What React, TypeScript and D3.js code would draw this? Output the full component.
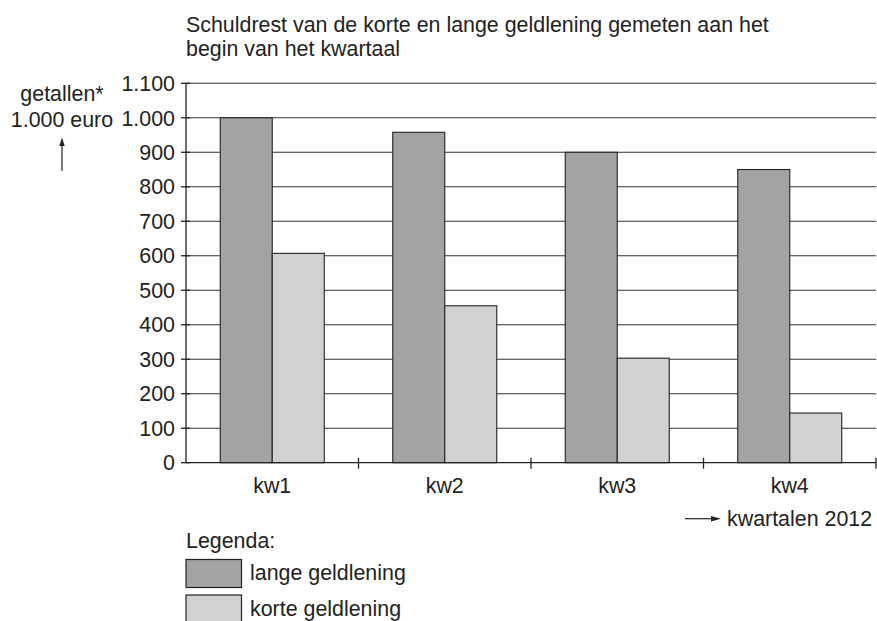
import React, { useEffect, useRef } from 'react';
import * as d3 from 'd3';

const quarters = ['kw1', 'kw2', 'kw3', 'kw4'];
const seriesKeys = ['lange', 'korte'];
const seriesLabels = ['lange geldlening', 'korte geldlening'];
const seriesColors = ['#a3a3a3', '#d1d1d1'];
const langeValues = [1000, 958, 900, 850];
const korteValues = [607, 455, 303, 144];
const yTicks = [0, 100, 200, 300, 400, 500, 600, 700, 800, 900, 1000, 1100];
const titleLines = [
  'Schuldrest van de korte en lange geldlening gemeten aan het',
  'begin van het kwartaal',
];

const W = 877;
const H = 621;
const FONT = '"Liberation Sans", Arial, Helvetica, sans-serif';
const FS = 21.4;
const INK = '#222';

const nl = d3.formatLocale({ decimal: ',', thousands: '.', grouping: [3], currency: ['€', ''] });
const fmt = nl.format(',');

const App: React.FC = () => {
  const svgRef = useRef<SVGSVGElement | null>(null);

  useEffect(() => {
    const svgEl = svgRef.current;
    if (!svgEl) return;
    const svg = d3.select(svgEl);
    svg.selectAll('*').remove();

    const x0 = d3.scaleBand<string>().domain(quarters).range([186, 876]).padding(0);
    const groupWidth = 104;
    const x1 = d3.scaleBand<string>().domain(seriesKeys).range([0, groupWidth]).padding(0);
    const groupOffset = (x0.bandwidth() - groupWidth) / 2;
    const y = d3.scaleLinear().domain([0, 1100]).range([462.7, 83.3]);

    const left = x0.range()[0];
    const right = x0.range()[1];

    // title
    svg.append('g')
      .selectAll('text')
      .data(titleLines)
      .join('text')
      .attr('x', 186)
      .attr('y', (_, i) => 31.5 + i * 24.5)
      .attr('font-family', FONT)
      .attr('font-size', FS)
      .attr('fill', INK)
      .text((d) => d);

    // gridlines
    svg.append('g')
      .selectAll('line')
      .data(yTicks.filter((t) => t > 0))
      .join('line')
      .attr('x1', left)
      .attr('x2', right)
      .attr('y1', (d) => y(d))
      .attr('y2', (d) => y(d))
      .attr('stroke', '#333')
      .attr('stroke-width', 1.1);

    // bars
    const data = quarters.map((q, i) => ({ q, lange: langeValues[i], korte: korteValues[i] }));
    const groups = svg.append('g')
      .selectAll('g')
      .data(data)
      .join('g')
      .attr('transform', (d) => `translate(${(x0(d.q) as number) + groupOffset},0)`);
    groups.selectAll('rect')
      .data((d) => seriesKeys.map((k, i) => ({ k, v: (d as any)[k] as number, c: seriesColors[i] })))
      .join('rect')
      .attr('x', (d) => x1(d.k) as number)
      .attr('width', x1.bandwidth())
      .attr('y', (d) => y(d.v))
      .attr('height', (d) => y(0) - y(d.v))
      .attr('fill', (d) => d.c)
      .attr('stroke', INK)
      .attr('stroke-width', 1.1);

    // y axis
    const yAxis = svg.append('g').attr('transform', `translate(${left},0)`);
    yAxis.append('line')
      .attr('x1', 0).attr('x2', 0)
      .attr('y1', y(1100)).attr('y2', y(0))
      .attr('stroke', INK).attr('stroke-width', 1.3);
    const yt = yAxis.selectAll('g.tick').data(yTicks).join('g')
      .attr('class', 'tick')
      .attr('transform', (d) => `translate(0,${y(d)})`);
    yt.append('line').attr('x1', -5).attr('x2', 4).attr('stroke', INK).attr('stroke-width', 1.3);
    yt.append('text')
      .attr('x', -11)
      .attr('dy', '0.36em')
      .attr('text-anchor', 'end')
      .attr('font-family', FONT)
      .attr('font-size', FS)
      .attr('fill', INK)
      .text((d) => fmt(d));

    // x axis
    const xAxis = svg.append('g').attr('transform', `translate(0,${y(0)})`);
    xAxis.append('line')
      .attr('x1', left).attr('x2', right)
      .attr('stroke', INK).attr('stroke-width', 1.3);
    const bounds = quarters.slice(1).map((q) => x0(q) as number).concat([right]);
    xAxis.selectAll('line.tick')
      .data(bounds)
      .join('line')
      .attr('class', 'tick')
      .attr('x1', (d) => d).attr('x2', (d) => d)
      .attr('y1', -5).attr('y2', 6)
      .attr('stroke', INK).attr('stroke-width', 1.3);
    xAxis.selectAll('text')
      .data(quarters)
      .join('text')
      .attr('x', (d) => (x0(d) as number) + x0.bandwidth() / 2)
      .attr('y', 30.5)
      .attr('text-anchor', 'middle')
      .attr('font-family', FONT)
      .attr('font-size', FS)
      .attr('fill', INK)
      .text((d) => d);

    // y label
    const yl = svg.append('g').attr('font-family', FONT).attr('font-size', FS).attr('fill', INK);
    yl.append('text').attr('x', 62).attr('y', 100.5).attr('text-anchor', 'middle').text('getallen*');
    yl.append('text').attr('x', 62).attr('y', 126.5).attr('text-anchor', 'middle').text('1.000 euro');
    svg.append('line')
      .attr('x1', 62).attr('x2', 62).attr('y1', 171).attr('y2', 144)
      .attr('stroke', INK).attr('stroke-width', 1.2);
    svg.append('path')
      .attr('d', 'M62,137.5 L59.3,146 L64.7,146 Z')
      .attr('fill', INK);

    // x label
    svg.append('line')
      .attr('x1', 685).attr('x2', 714).attr('y1', 518.7).attr('y2', 518.7)
      .attr('stroke', INK).attr('stroke-width', 1.2);
    svg.append('path')
      .attr('d', 'M721,518.7 L711,515.9 L711,521.5 Z')
      .attr('fill', INK);
    svg.append('text')
      .attr('x', 727).attr('y', 525.5)
      .attr('font-family', FONT).attr('font-size', FS).attr('fill', INK)
      .text('kwartalen 2012');

    // legend
    const lg = svg.append('g').attr('font-family', FONT).attr('font-size', FS).attr('fill', INK);
    lg.append('text').attr('x', 186).attr('y', 548).text('Legenda:');
    const items = lg.selectAll('g.item')
      .data(seriesLabels)
      .join('g')
      .attr('class', 'item')
      .attr('transform', (_, i) => `translate(186,${559.5 + i * 35.5})`);
    items.append('rect')
      .attr('width', 55.5).attr('height', 28)
      .attr('fill', (_, i) => seriesColors[i])
      .attr('stroke', INK).attr('stroke-width', 1.2);
    items.append('text')
      .attr('x', 64).attr('y', 20.5)
      .text((d) => d);
  }, []);

  return (
    <div style={{ position: 'absolute', left: 0, top: 0, width: W, height: H, background: '#fff' }}>
      <svg ref={svgRef} width={W} height={H} role="img" aria-label="Schuldrest geldlening per kwartaal" />
    </div>
  );
};

export default App;
